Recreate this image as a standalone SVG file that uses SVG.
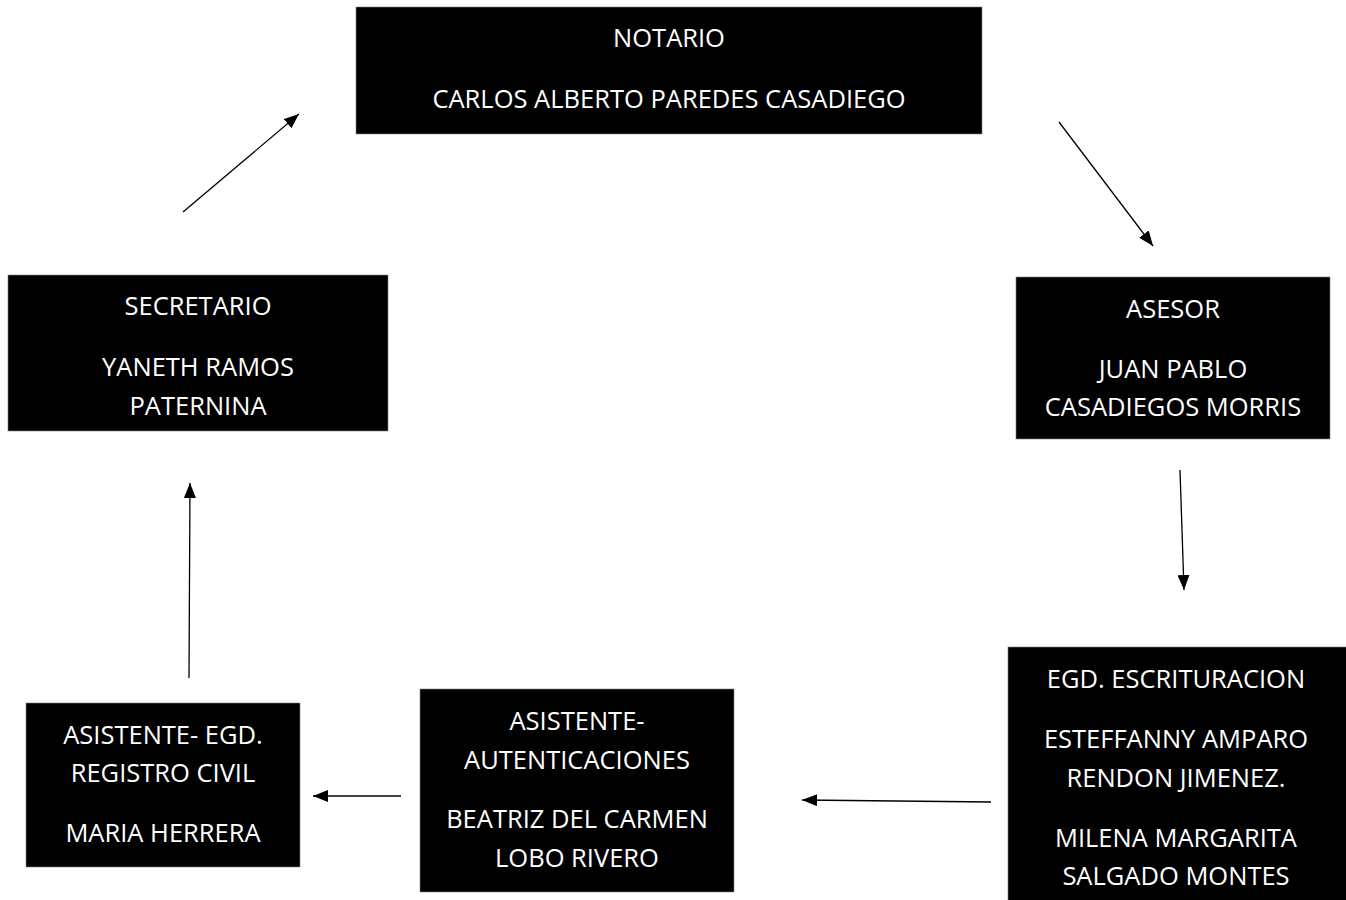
<svg xmlns="http://www.w3.org/2000/svg" width="1346" height="900" viewBox="0 0 1346 900">
<style>
.box{fill:#000;stroke:#808080;stroke-width:0.6}
.t{font-family:"Open Sans","Liberation Sans",sans-serif;font-size:25.5px;fill:#fff;text-anchor:middle}
.c{stroke:#000;stroke-width:1.3;fill:none;marker-end:url(#ah)}
</style>
<defs>
<marker id="ah" viewBox="0 0 15 12" refX="15" refY="6" markerWidth="15" markerHeight="12" markerUnits="userSpaceOnUse" orient="auto">
<path d="M0,0 L15,6 L0,12 Z" fill="#000"/>
</marker>
</defs>
<rect width="1346" height="900" fill="#fff"/>
<g id="connectors">
<line class="c" x1="183" y1="212" x2="299" y2="114"/>
<line class="c" x1="1059" y1="122" x2="1153" y2="246"/>
<line class="c" x1="1180" y1="470" x2="1184" y2="590"/>
<line class="c" x1="991" y1="802" x2="802" y2="800"/>
<line class="c" x1="401" y1="796" x2="313" y2="796"/>
<line class="c" x1="189" y1="678" x2="190" y2="483"/>
</g>
<g id="notario">
<rect class="box" x="356" y="7" width="626" height="127"/>
<text class="t" x="669" y="47">NOTARIO</text>
<text class="t" x="669" y="108">CARLOS ALBERTO PAREDES CASADIEGO</text>
</g>
<g id="secretario">
<rect class="box" x="8" y="275" width="380" height="156"/>
<text class="t" x="198" y="315">SECRETARIO</text>
<text class="t" x="198" y="376">YANETH RAMOS</text>
<text class="t" x="198" y="415">PATERNINA</text>
</g>
<g id="asesor">
<rect class="box" x="1016" y="277" width="314" height="162"/>
<text class="t" x="1173" y="318">ASESOR</text>
<text class="t" x="1173" y="378">JUAN PABLO</text>
<text class="t" x="1173" y="416">CASADIEGOS MORRIS</text>
</g>
<g id="escrituracion">
<rect class="box" x="1008" y="647" width="340" height="260"/>
<text class="t" x="1176" y="688">EGD. ESCRITURACION</text>
<text class="t" x="1176" y="748">ESTEFFANNY AMPARO</text>
<text class="t" x="1176" y="787">RENDON JIMENEZ.</text>
<text class="t" x="1176" y="847">MILENA MARGARITA</text>
<text class="t" x="1176" y="885">SALGADO MONTES</text>
</g>
<g id="autenticaciones">
<rect class="box" x="420" y="689" width="314" height="203"/>
<text class="t" x="577" y="730">ASISTENTE-</text>
<text class="t" x="577" y="769">AUTENTICACIONES</text>
<text class="t" x="577" y="828">BEATRIZ DEL CARMEN</text>
<text class="t" x="577" y="867">LOBO RIVERO</text>
</g>
<g id="registro">
<rect class="box" x="26" y="703" width="274" height="164"/>
<text class="t" x="163" y="744">ASISTENTE- EGD.</text>
<text class="t" x="163" y="782">REGISTRO CIVIL</text>
<text class="t" x="163" y="842">MARIA HERRERA</text>
</g>
</svg>
